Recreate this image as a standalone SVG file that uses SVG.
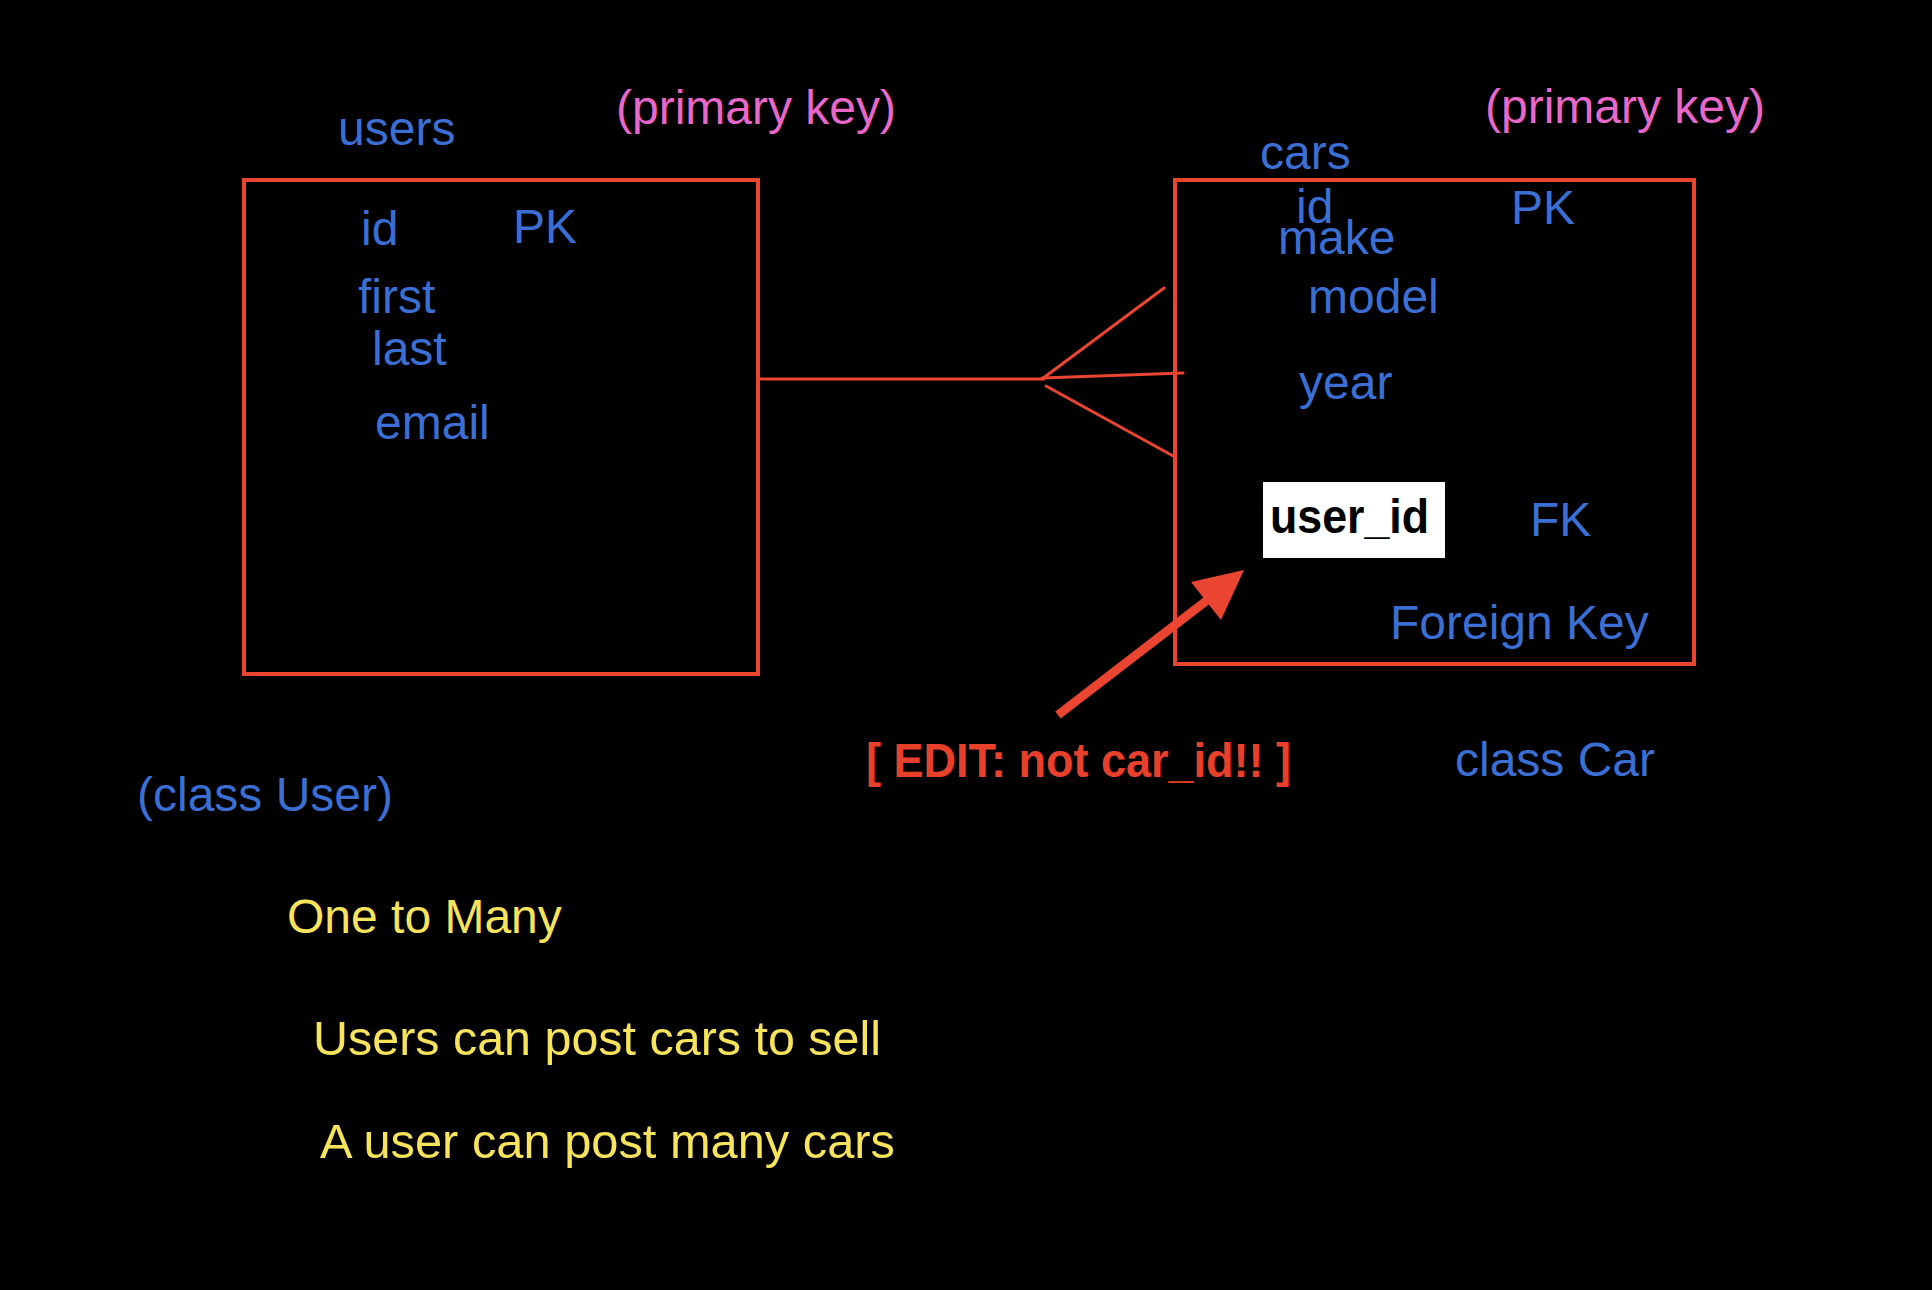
<svg xmlns="http://www.w3.org/2000/svg" width="1932" height="1290" viewBox="0 0 1932 1290">
<style>
text{font-family:"Liberation Sans",Arial,Helvetica,sans-serif;font-size:48px}
.b{fill:#3B6FD4}
.p{fill:#E967C9}
.y{fill:#F7E35C}
.box{fill:none;stroke:#EA4530;stroke-width:4}
.ln{fill:none;stroke:#EA4530;stroke-width:3;stroke-linecap:round}
</style>
<rect width="1932" height="1290" fill="#000"/>
<g id="users">
<text class="b" x="338" y="145">users</text>
<rect class="box" x="244" y="180" width="514" height="494"/>
<text class="b" x="361" y="245">id</text>
<text class="b" x="513" y="243">PK</text>
<text class="b" x="358" y="313">first</text>
<text class="b" x="372" y="365">last</text>
<text class="b" x="375" y="439">email</text>
</g>
<text id="pk-label-1" class="p" x="616" y="124">(primary key)</text>
<text id="pk-label-2" class="p" x="1485" y="123">(primary key)</text>
<g id="cars">
<text class="b" x="1260" y="169">cars</text>
<rect class="box" x="1175" y="180" width="519" height="484"/>
<text class="b" x="1296" y="223">id</text>
<text class="b" x="1278" y="254">make</text>
<text class="b" x="1511" y="224">PK</text>
<text class="b" x="1308" y="313">model</text>
<text class="b" x="1299" y="399">year</text>
<rect x="1263" y="482" width="182" height="76" fill="#fff"/>
<text x="1270" y="533" font-weight="bold" font-size="44" fill="#000" textLength="159" lengthAdjust="spacingAndGlyphs">user_id</text>
<text class="b" x="1530" y="536">FK</text>
<text class="b" x="1390" y="639">Foreign Key</text>
</g>
<g id="connectors">
<line class="ln" x1="758" y1="379" x2="1044" y2="379"/>
<line class="ln" x1="1042" y1="379" x2="1164" y2="288"/>
<line class="ln" x1="1042" y1="378" x2="1183" y2="373"/>
<line class="ln" x1="1046" y1="386" x2="1175" y2="457"/>
<line x1="1058" y1="715" x2="1210" y2="598" stroke="#EA4530" stroke-width="9"/>
<polygon points="1244,570 1191,582 1221,620" fill="#EA4530"/>
</g>
<text id="edit" x="866" y="777" font-weight="bold" font-size="44" fill="#E8402A" textLength="425" lengthAdjust="spacingAndGlyphs">[ EDIT: not car_id!! ]</text>
<text id="class-car" class="b" x="1455" y="776">class Car</text>
<text id="class-user" class="b" x="137" y="811">(class User)</text>
<text class="y" x="287" y="933">One to Many</text>
<text class="y" x="313" y="1055" textLength="568" lengthAdjust="spacingAndGlyphs">Users can post cars to sell</text>
<text class="y" x="320" y="1158" textLength="575" lengthAdjust="spacingAndGlyphs">A user can post many cars</text>
</svg>
